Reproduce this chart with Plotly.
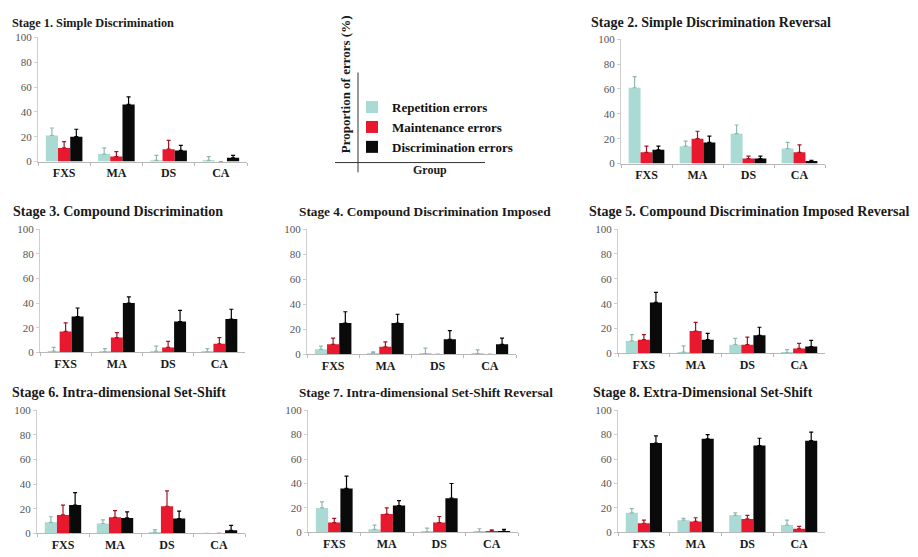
import plotly.graph_objects as go

W, H = 918, 557

groups = ["FXS", "MA", "DS", "CA"]
series_names = ["Repetition errors", "Maintenance errors", "Discrimination errors"]

stage_titles = [
    "Stage 1. Simple Discrimination",
    "Stage 2. Simple Discrimination Reversal",
    "Stage 3. Compound Discrimination",
    "Stage 4. Compound Discrimination Imposed",
    "Stage 5. Compound Discrimination Imposed Reversal",
    "Stage 6. Intra-dimensional Set-Shift",
    "Stage 7. Intra-dimensional Set-Shift Reversal",
    "Stage 8. Extra-Dimensional Set-Shift",
]

# values per stage: [repetition, maintenance, discrimination], each over FXS, MA, DS, CA
rep_vals = [
    [21, 6, 1, 1],
    [61, 14, 24, 12],
    [1, 0.5, 1, 0.5],
    [4, 1, 0.5, 0.5],
    [10, 1, 7, 0.5],
    [9, 8, 1, 0],
    [20, 2.5, 0.5, 0.5],
    [16, 10, 14, 6],
]
rep_err = [
    [6, 5, 4, 3],
    [9, 4, 7, 5],
    [3, 2.5, 4, 2.5],
    [2.5, 1, 4.5, 3],
    [5, 5, 5, 2.5],
    [4.5, 3, 2, 0],
    [5, 3.5, 3, 2.5],
    [3.5, 1.5, 2, 4],
]
maint_vals = [
    [11, 4, 10, 0],
    [9, 20, 4, 9],
    [17, 12, 4, 7],
    [8, 6, 0, 0],
    [11, 18, 7, 4],
    [15, 13, 22, 0],
    [8, 15, 8, 1],
    [7.5, 9, 11, 3],
]
maint_err = [
    [5, 4, 7, 0],
    [5, 6, 2, 6],
    [7, 4, 5, 5],
    [5, 4, 0, 0],
    [4, 7, 6, 4],
    [8, 5.5, 12.5, 0],
    [3.5, 5, 5, 1],
    [2.5, 3, 3, 2],
]
disc_vals = [
    [20, 46, 9, 3],
    [11, 17, 4, 2],
    [29, 40, 25, 27],
    [25, 25, 12, 8],
    [41, 11, 14.5, 5.5],
    [23, 12.5, 12, 2.5],
    [36, 22, 28, 1],
    [73, 76.5, 71, 75],
]
disc_err = [
    [6, 6, 4, 2],
    [3, 5, 2, 0.5],
    [7, 5, 9, 8],
    [9, 7, 7, 5],
    [8, 5, 6.5, 5],
    [10, 5, 6, 4],
    [10, 4, 12, 1.5],
    [6, 3.5, 6, 7],
]

y_ticks = [0, 20, 40, 60, 80, 100]

colors = ["#a9dad3", "#e8182e", "#0a0a0a"]
err_colors = ["#8fb8b2", "#a8101f", "#000000"]

# panel placement in pixels: (x0, x1, ytop, ybottom), title (x, y), title size
panels = [
    (38, 247, 32, 159), (621, 825, 34, 161),
    (40, 245, 228, 354), (307, 516, 228, 356), (618, 825, 228, 355),
    (37, 245, 413, 539), (308, 518, 413, 538), (618, 825, 413, 538),
]
title_pos = [(10, 17), (589, 17), (11, 210), (297, 210), (587, 210),
             (10, 395), (297, 395), (591, 395)]
title_size = [12.3, 14, 14, 13.3, 14, 14, 13.2, 14]

SERIF = "Liberation Serif"

fig = go.Figure()
layout = dict(
    width=W, height=H,
    margin=dict(l=0, r=0, t=0, b=0),
    paper_bgcolor="white", plot_bgcolor="white",
    barmode="group", bargap=0.3, bargroupgap=0,
    showlegend=True,
    legend=dict(x=352 / W, y=1 - 88 / H, xanchor="left", yanchor="top",
                font=dict(family=SERIF, size=13, color="#111", weight="bold"),
                bgcolor="rgba(0,0,0,0)", tracegroupgap=0, itemwidth=30),
)

annotations = []
shapes = []
all_vals = [rep_vals, maint_vals, disc_vals]
all_errs = [rep_err, maint_err, disc_err]

for i in range(8):
    ax = "" if i == 0 else str(i + 1)
    x0, x1, yt, yb = panels[i]
    for s in range(3):
        fig.add_trace(go.Bar(
            x=groups, y=all_vals[s][i], name=series_names[s],
            marker=dict(color=colors[s], line=dict(width=0)),
            error_y=dict(type="data", array=all_errs[s][i],
                         arrayminus=[0] * 4, symmetric=False,
                         thickness=1.2, width=2, color=err_colors[s]),
            xaxis="x" + ax, yaxis="y" + ax,
            showlegend=(i == 0), legendgroup=series_names[s],
        ))
    layout["xaxis" + ax] = dict(
        domain=[x0 / W, x1 / W], anchor="y" + ax,
        showline=True, linecolor="#b8b8b8", linewidth=1,
        ticks="outside", tickson="boundaries", ticklen=3, tickcolor="#b8b8b8",
        tickfont=dict(family=SERIF, size=12, color="#1a1a1a", weight="bold"),
        showgrid=False, zeroline=False, fixedrange=True,
    )
    layout["yaxis" + ax] = dict(
        domain=[1 - yb / H, 1 - yt / H], anchor="x" + ax,
        range=[0, 100], tickvals=y_ticks,
        showline=True, linecolor="#cfcfcf", linewidth=1,
        ticks="outside", ticklen=3, tickcolor="#cfcfcf",
        tickfont=dict(family=SERIF, size=11, color="#555"),
        showgrid=False, zeroline=False, fixedrange=True,
    )
    tx, ty = title_pos[i]
    annotations.append(dict(
        text="<b>" + stage_titles[i] + "</b>", x=tx / W, y=1 - ty / H,
        xref="paper", yref="paper", xanchor="left", yanchor="middle",
        showarrow=False,
        font=dict(family=SERIF, size=title_size[i], color="#1a1a1a"),
    ))

# schematic key axes
shapes.append(dict(type="line", xref="paper", yref="paper",
                   x0=358 / W, x1=358 / W, y0=1 - 68 / H, y1=1 - 170 / H,
                   line=dict(color="#333", width=1)))
shapes.append(dict(type="line", xref="paper", yref="paper",
                   x0=335 / W, x1=485 / W, y0=1 - 160 / H, y1=1 - 160 / H,
                   line=dict(color="#333", width=1)))
annotations.append(dict(
    text="<b>Proportion of errors (%)</b>", x=345 / W, y=1 - 80 / H,
    xref="paper", yref="paper", xanchor="center", yanchor="middle",
    textangle=-90, showarrow=False,
    font=dict(family=SERIF, size=13, color="#1a1a1a"),
))
annotations.append(dict(
    text="<b>Group</b>", x=430 / W, y=1 - 168 / H,
    xref="paper", yref="paper", xanchor="center", yanchor="middle",
    showarrow=False, font=dict(family=SERIF, size=12, color="#1a1a1a"),
))

layout["annotations"] = annotations
layout["shapes"] = shapes
fig.update_layout(**layout)
fig.write_html(
    "out.html",
    config={"displayModeBar": False},
    post_script="document.body.style.margin='0';document.body.style.overflow='hidden';",
)
